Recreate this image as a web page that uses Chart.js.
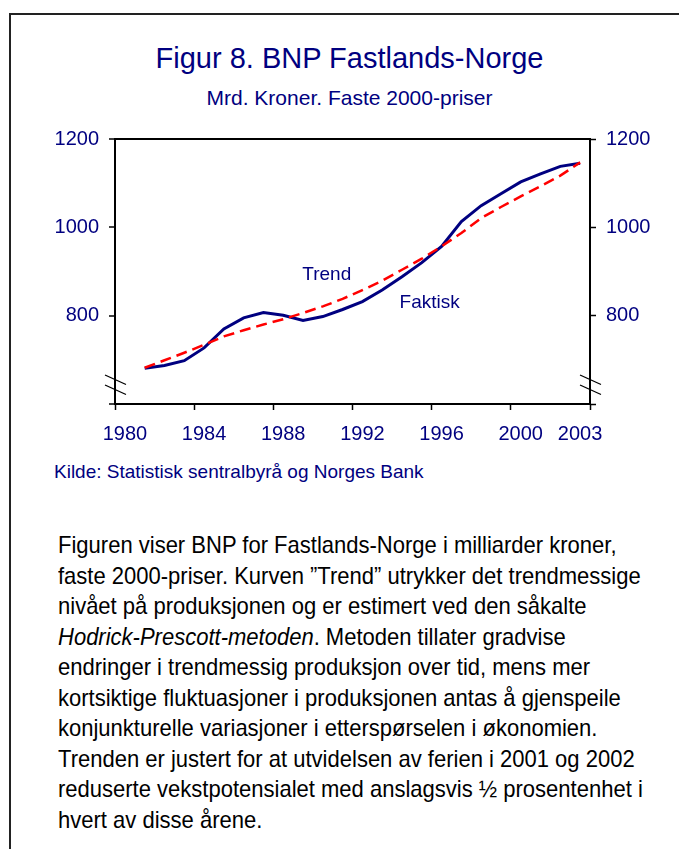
<!DOCTYPE html>
<html>
<head>
<meta charset="utf-8">
<script src="https://cdn.jsdelivr.net/npm/chart.js@4.4.1/dist/chart.umd.min.js"></script>
<style>
  html, body { margin: 0; padding: 0; background: #fff; }
  body { width: 679px; height: 849px; position: relative; overflow: hidden; }
  .frame { position: absolute; left: 9px; top: 13px; width: 720px; height: 900px;
           border-left: 2px solid #222; border-top: 2px solid #222; }
  #chart { position: absolute; left: 0; top: 0; }
  .title, .subtitle, .source { position: absolute; color: #000080;
           font-family: "Liberation Sans", Arial, sans-serif; white-space: nowrap; }
  .title { left: 10px; width: 679px; top: 42px; text-align: center; font-size: 29px; }
  .subtitle { left: 10px; width: 679px; top: 86px; text-align: center; font-size: 21px; }
  .source { left: 54px; top: 461px; font-size: 19px; }
  .body { position: absolute; left: 58px; top: 530px; font-size: 24px; line-height: 30.5px;
          font-family: "Liberation Sans Narrow", "Arial Narrow", "Liberation Sans", sans-serif;
          color: #000; white-space: nowrap; transform: scaleX(0.917); transform-origin: 0 0; }
</style>
</head>
<body>
<div class="frame"></div>
<div class="title">Figur 8. BNP Fastlands-Norge</div>
<div class="subtitle">Mrd. Kroner. Faste 2000-priser</div>
<canvas id="chart" width="679" height="440"></canvas>
<div class="source">Kilde: Statistisk sentralbyrå og Norges Bank</div>
<div class="body">
Figuren viser BNP for Fastlands-Norge i milliarder kroner,<br>
faste 2000-priser. Kurven ”Trend” utrykker det trendmessige<br>
nivået på produksjonen og er estimert ved den såkalte<br>
<i>Hodrick-Prescott-metoden</i>. Metoden tillater gradvise<br>
endringer i trendmessig produksjon over tid, mens mer<br>
kortsiktige fluktuasjoner i produksjonen antas å gjenspeile<br>
konjunkturelle variasjoner i etterspørselen i økonomien.<br>
Trenden er justert for at utvidelsen av ferien i 2001 og 2002<br>
reduserte vekstpotensialet med anslagsvis ½ prosentenhet i<br>
hvert av disse årene.
</div>

<script>
'use strict';

// ── Data (Mrd. kroner, faste 2000-priser) ───────────────────────────────────
const YEARS   = [1981, 1982, 1983, 1984, 1985, 1986, 1987, 1988, 1989, 1990, 1991, 1992,
                 1993, 1994, 1995, 1996, 1997, 1998, 1999, 2000, 2001, 2002, 2003];
const FAKTISK = [681, 687, 698, 727, 770, 795, 807, 801, 789, 798, 814, 832,
                 858, 888, 920, 957, 1013, 1049, 1076, 1103, 1121, 1138, 1145];
const TREND   = [682, 699, 716, 734, 753, 767, 780, 792, 806, 821, 838, 858,
                 879, 904, 929, 957, 987, 1021, 1046, 1070, 1093, 1117, 1147];

// ── Axis ticks ──────────────────────────────────────────────────────────────
const X_BOUNDS      = [1980, 1984, 1988, 1992, 1996, 2000, 2004];  // tick marks
const X_LABEL_YEARS = [1980, 1984, 1988, 1992, 1996, 2000, 2003];  // labelled years
const Y_TICKS       = [600, 800, 1000, 1200];

// ── Colours / fonts ─────────────────────────────────────────────────────────
const NAVY = '#000080';
const RED  = '#FF0000';
const FONT = "'Liberation Sans', Arial, sans-serif";

// each year sits in the middle of its band
const pts = (vals) => vals.map((v, i) => ({ x: YEARS[i] + 0.5, y: v }));

// ── In-plot line labels ─────────────────────────────────────────────────────
const LINE_LABELS = [
  { text: 'Trend',   x: 1990.7, y: 893 },
  { text: 'Faktisk', x: 1995.9, y: 829 },
];

const lineLabels = {
  id: 'lineLabels',
  afterDatasetsDraw(chart) {
    const { ctx, scales: { x, y } } = chart;
    ctx.save();
    ctx.fillStyle = NAVY;
    ctx.font = `19px ${FONT}`;
    ctx.textAlign = 'center';
    ctx.textBaseline = 'middle';
    LINE_LABELS.forEach(l => ctx.fillText(l.text, x.getPixelForValue(l.x), y.getPixelForValue(l.y)));
    ctx.restore();
  },
};

// ── Axis break marks ("//") near the bottom of both value axes ──────────────
const axisBreaks = {
  id: 'axisBreaks',
  afterDraw(chart) {
    const { ctx, chartArea: a } = chart;
    ctx.save();
    ctx.strokeStyle = '#000';
    ctx.lineWidth = 1.3;
    [a.left, a.right].forEach(ax => {
      [-29, -19].forEach(dy => {
        ctx.beginPath();
        ctx.moveTo(ax - 10, a.bottom + dy);
        ctx.lineTo(ax + 11, a.bottom + dy + 9.5);
        ctx.stroke();
      });
    });
    ctx.restore();
  },
};

const tickFont = { family: FONT, size: 20 };

new Chart(document.getElementById('chart'), {
  type: 'line',
  data: {
    datasets: [
      {
        label: 'Trend',
        data: pts(TREND),
        borderColor: RED,
        borderWidth: 2.5,
        borderDash: [11, 6],
        pointRadius: 0,
        tension: 0,
        order: 1,
      },
      {
        label: 'Faktisk',
        data: pts(FAKTISK),
        borderColor: NAVY,
        borderWidth: 3,
        pointRadius: 0,
        tension: 0,
        order: 2,
      },
    ],
  },
  options: {
    responsive: false,
    animation: false,
    layout: { padding: { top: 139, left: 0, right: 0, bottom: 0 } },
    plugins: { legend: { display: false }, tooltip: { enabled: false } },
    scales: {
      x: {
        type: 'linear',
        min: 1980,
        max: 2004,
        afterBuildTicks: (axis) => {
          const t = X_BOUNDS.map(v => ({ value: v }))
            .concat(X_LABEL_YEARS.map(v => ({ value: v + 0.5 })));
          axis.ticks = t.sort((a, b) => a.value - b.value);
        },
        afterFit: (axis) => { axis.height = 36; },
        ticks: {
          autoSkip: false,
          maxRotation: 0,
          padding: 12,
          color: NAVY,
          font: tickFont,
          callback: (v) => Number.isInteger(v) ? '' : String(Math.floor(v)),
        },
        grid: {
          drawOnChartArea: false,
          tickLength: 6,
          tickWidth: 1.5,
          tickColor: (c) => (c.tick && Number.isInteger(c.tick.value)) ? '#000' : 'rgba(0,0,0,0)',
        },
        border: { color: '#000', width: 2 },
      },
      y: {
        position: 'left',
        min: 600,
        max: 1200,
        afterBuildTicks: (axis) => { axis.ticks = Y_TICKS.map(v => ({ value: v })); },
        afterFit: (axis) => { axis.width = 115; },
        ticks: {
          padding: 10,
          color: NAVY,
          font: tickFont,
          callback: (v) => v === 600 ? '' : String(v),
        },
        grid: {
          drawOnChartArea: true,
          lineWidth: 2,
          color: (c) => (c.tick && c.tick.value === 1200) ? '#000' : 'rgba(0,0,0,0)',
          tickLength: 6,
          tickWidth: 1.5,
          tickColor: '#000',
        },
        border: { color: '#000', width: 2 },
      },
      y2: {
        position: 'right',
        min: 600,
        max: 1200,
        afterBuildTicks: (axis) => { axis.ticks = Y_TICKS.map(v => ({ value: v })); },
        afterFit: (axis) => { axis.width = 89; },
        ticks: {
          padding: 10,
          color: NAVY,
          font: tickFont,
          callback: (v) => v === 600 ? '' : String(v),
        },
        grid: {
          drawOnChartArea: false,
          tickLength: 6,
          tickWidth: 1.5,
          tickColor: '#000',
        },
        border: { color: '#000', width: 2 },
      },
    },
  },
  plugins: [lineLabels, axisBreaks],
});
</script>
</body>
</html>
